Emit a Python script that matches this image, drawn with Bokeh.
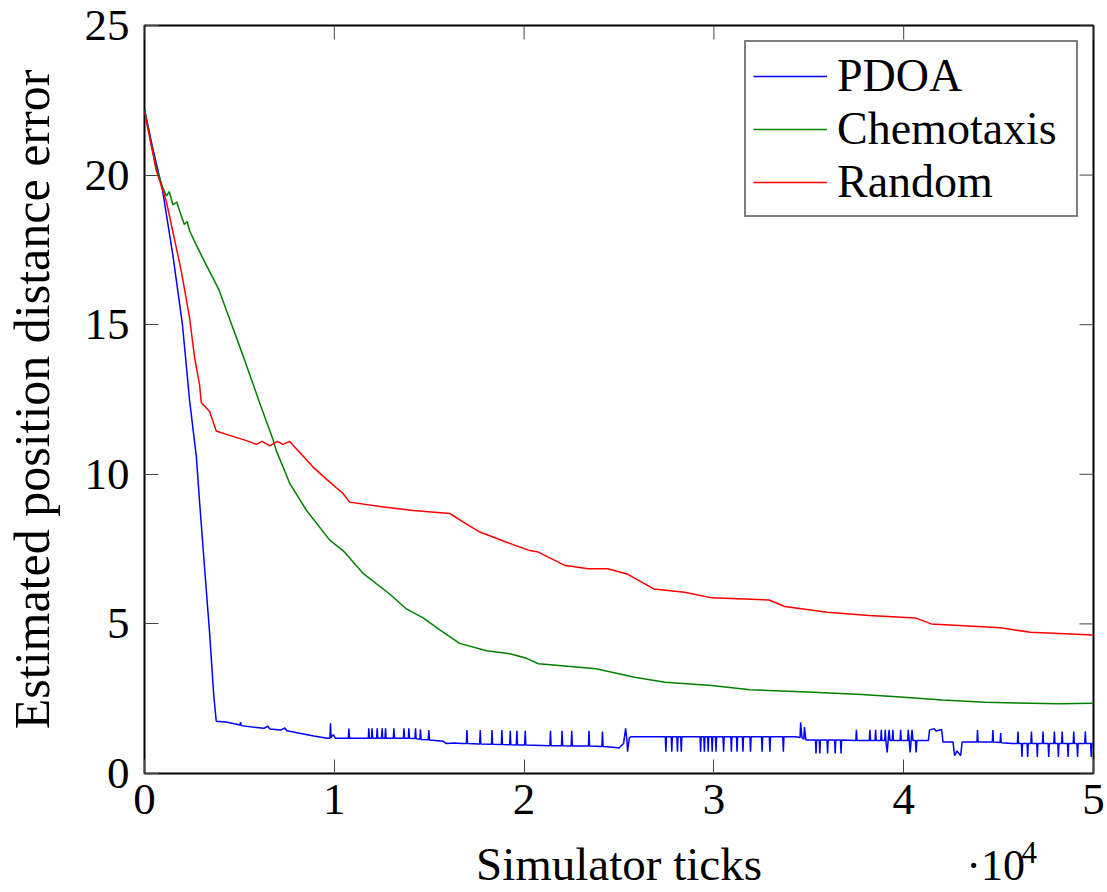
import math
from bokeh.plotting import figure
from bokeh.models import FixedTicker, Legend, LegendItem, Range1d
from bokeh.core.properties import value
from bokeh.embed import file_html
from bokeh.resources import INLINE

# ---------------- data ----------------
x_ticks = [0, 10000, 20000, 30000, 40000, 50000]
x_tick_labels = ["0", "1", "2", "3", "4", "5"]
y_ticks = [0, 5, 10, 15, 20, 25]

pdoa_points = [
    (0, 22.2), (400, 21.0), (950, 19.5), (1500, 17.3), (2000, 15.0), (2370, 12.5),
    (2730, 10.6), (2900, 9.1), (3150, 7.0), (3430, 4.7), (3650, 2.6), (3780, 1.75),
    (4300, 1.72), (5030, 1.62), (5060, 1.72), (5090, 1.6), (6290, 1.51), (6500, 1.58),
    (6600, 1.49), (7170, 1.45), (7400, 1.52), (7500, 1.43), (8920, 1.25), (9620, 1.18),
    (9770, 1.18), (9800, 1.68), (9830, 1.2), (9950, 1.3), (10050, 1.18),
    (10740, 1.18), (10770, 1.5), (10800, 1.18),
    (11790, 1.18), (11820, 1.51), (11850, 1.18), (11960, 1.18), (11990, 1.51), (12020, 1.18),
    (12230, 1.18), (12260, 1.51), (12290, 1.18), (12490, 1.18), (12520, 1.51), (12550, 1.18),
    (12670, 1.18), (12700, 1.51), (12730, 1.18), (13110, 1.18), (13140, 1.51), (13170, 1.18),
    (13640, 1.18), (13670, 1.51), (13700, 1.18), (13900, 1.18), (13930, 1.51), (13960, 1.18),
    (14250, 1.17), (14280, 1.51), (14310, 1.16), (14510, 1.15), (14540, 1.48), (14570, 1.14),
    (14950, 1.13), (14980, 1.45), (15010, 1.12),
    (15730, 1.08), (15900, 1.0), (16300, 1.02), (16700, 1.0),
    (16960, 1.0), (16990, 1.45), (17020, 1.0), (17660, 0.99), (17690, 1.45), (17720, 0.99),
    (18280, 0.98), (18310, 1.45), (18340, 0.98), (18800, 0.97), (18830, 1.45), (18860, 0.97),
    (19240, 0.96), (19270, 1.43), (19300, 0.96), (19590, 0.95), (19620, 1.43), (19650, 0.95),
    (20030, 0.95), (20060, 1.43), (20090, 0.95),
    (21360, 0.93), (21390, 1.43), (21420, 0.93), (21970, 0.93), (22000, 1.43), (22030, 0.93),
    (22480, 0.92), (22510, 1.43), (22540, 0.92), (23390, 0.92), (23420, 1.43), (23450, 0.92),
    (24100, 0.9), (24130, 1.4), (24160, 0.9),
    (24700, 0.88), (25000, 0.85), (25240, 1.0), (25350, 1.51), (25420, 1.1), (25450, 0.73),
    (25550, 1.2), (25650, 1.23),
    (27440, 1.23), (27470, 0.73), (27500, 1.23), (27750, 1.23), (27780, 0.73), (27810, 1.23),
    (28050, 1.23), (28080, 0.73), (28110, 1.23), (28250, 1.23), (28280, 0.73), (28310, 1.23),
    (29270, 1.23), (29300, 0.73), (29330, 1.23), (29470, 1.23), (29500, 0.73), (29530, 1.23),
    (29670, 1.23), (29700, 0.73), (29730, 1.23), (29880, 1.23), (29910, 0.73), (29940, 1.23),
    (30080, 1.23), (30110, 0.73), (30140, 1.23), (30480, 1.23), (30510, 0.73), (30540, 1.23),
    (30890, 1.23), (30920, 0.73), (30950, 1.23), (31190, 1.23), (31220, 0.73), (31250, 1.23),
    (31500, 1.23), (31530, 0.73), (31560, 1.23), (31900, 1.23), (31930, 0.73), (31960, 1.23),
    (32510, 1.23), (32540, 0.73), (32570, 1.23), (32920, 1.23), (32950, 0.73), (32980, 1.23),
    (33630, 1.23), (33660, 0.73), (33690, 1.23),
    (34300, 1.23), (34540, 1.2), (34570, 1.71), (34640, 1.2), (34740, 1.15), (34770, 1.55),
    (34850, 1.12),
    (35350, 1.12), (35380, 0.67), (35410, 1.12), (35550, 1.12), (35580, 0.67), (35610, 1.12),
    (35960, 1.12), (35990, 0.67), (36020, 1.12), (36360, 1.12), (36390, 0.67), (36420, 1.12),
    (36670, 1.12), (36700, 0.67), (36730, 1.12),
    (37480, 1.1), (37510, 1.46), (37540, 1.1), (38190, 1.1), (38220, 1.46), (38250, 1.1),
    (38490, 1.1), (38520, 1.46), (38550, 1.1), (38790, 1.1), (38820, 1.46), (38850, 1.1),
    (39000, 1.1), (39030, 1.46), (39060, 1.1), (39130, 0.7), (39180, 1.1), (39230, 1.46),
    (39280, 1.1), (39400, 1.1), (39430, 1.46), (39460, 1.1), (39810, 1.1), (39840, 1.46),
    (39870, 1.1), (40210, 1.1), (40240, 1.46), (40290, 1.1), (40340, 0.7), (40390, 1.1),
    (40440, 1.46), (40490, 1.1), (40620, 1.1), (40650, 0.7), (40700, 1.1),
    (41300, 1.1), (41360, 1.45), (41600, 1.5), (41700, 1.42), (42000, 1.47), (42070, 1.05),
    (42600, 1.05), (42680, 0.6), (42800, 0.75), (43000, 0.6), (43080, 1.05),
    (43860, 1.05), (43890, 1.45), (43920, 1.05), (44670, 1.05), (44700, 1.45), (44730, 1.05),
    (45080, 1.04), (45110, 1.35), (45140, 1.03),
    (45720, 1.0), (45990, 1.0), (46020, 1.4), (46050, 1.0), (46200, 1.0), (46230, 0.55),
    (46260, 1.0), (46500, 1.0), (46530, 0.55), (46560, 1.0), (46700, 1.0), (46730, 1.4),
    (46760, 1.0), (47010, 1.0), (47040, 0.55), (47070, 1.0), (47310, 1.0), (47340, 1.4),
    (47370, 1.0), (47610, 1.0), (47640, 0.55), (47670, 1.0), (47910, 1.0), (47940, 1.4),
    (47970, 1.0), (48120, 1.0), (48150, 0.55), (48180, 1.0), (48320, 1.0), (48350, 1.4),
    (48380, 1.0), (48630, 1.0), (48660, 0.55), (48690, 1.0), (48930, 1.0), (48960, 1.4),
    (48990, 1.0), (49130, 1.0), (49160, 0.55), (49190, 1.0), (49540, 1.0), (49570, 1.4),
    (49600, 1.0), (49850, 1.0), (49880, 0.55), (49910, 1.0), (50000, 1.0),
]

chemotaxis_points = [
    (0, 22.2), (300, 21.2), (600, 20.3), (950, 19.6), (1150, 19.3), (1300, 19.45),
    (1500, 19.0), (1700, 19.1), (1850, 18.8), (2100, 18.35), (2250, 18.45), (2370, 18.15),
    (2700, 17.7), (3250, 17.0), (3900, 16.2), (4480, 15.2), (5170, 14.0), (6060, 12.4),
    (6750, 11.2), (6940, 10.8), (7650, 9.7), (8530, 8.8), (9760, 7.8), (10460, 7.45),
    (11500, 6.7), (12920, 6.0), (13800, 5.5), (14680, 5.2), (15560, 4.8), (16600, 4.35),
    (18020, 4.1), (19250, 4.0), (20130, 3.85), (20750, 3.67), (22000, 3.6), (23790, 3.5),
    (25820, 3.22), (27430, 3.05), (29880, 2.94), (31910, 2.8), (34950, 2.72), (37790, 2.64),
    (40020, 2.55), (42040, 2.46), (44280, 2.38), (48140, 2.33), (50000, 2.35),
]

random_points = [
    (0, 22.1), (260, 21.3), (620, 20.15), (1140, 19.15), (1480, 18.15), (1935, 16.8),
    (2370, 15.25), (2640, 13.9), (2900, 13.0), (2990, 12.4), (3430, 12.1), (3780, 11.45),
    (4480, 11.3), (5500, 11.1), (5900, 11.0), (6200, 11.1), (6600, 10.95), (7000, 11.1),
    (7300, 11.0), (7650, 11.1), (8170, 10.74), (8880, 10.24), (9760, 9.74), (10460, 9.36),
    (10810, 9.07), (12400, 8.92), (14150, 8.79), (16090, 8.69), (16800, 8.4), (17670, 8.07),
    (19080, 7.73), (20300, 7.45), (20750, 7.4), (22170, 6.95), (23390, 6.84), (24400, 6.84),
    (25420, 6.67), (26830, 6.17), (28460, 6.06), (29880, 5.87), (32910, 5.8), (33730, 5.58),
    (35970, 5.39), (38190, 5.28), (40610, 5.2), (41450, 5.0), (45100, 4.87), (46670, 4.72),
    (50000, 4.63),
]

series_names = ["PDOA", "Chemotaxis", "Random"]
series_colors = ["#0000ff", "#008000", "#ff0000"]
x_multiplier_text = "\u00b710"
x_multiplier_exponent = "4"

FONT = "Liberation Serif"
X_MIN, X_MAX = 0, 50000
Y_MIN, Y_MAX = 0, 25

# ---------------- figure ----------------
p = figure(width=1107, height=892, output_backend="svg", toolbar_location=None,
           x_range=Range1d(X_MIN, X_MAX), y_range=Range1d(Y_MIN, Y_MAX))
p.min_border_left = 144
p.min_border_right = 14
p.min_border_top = 25
p.min_border_bottom = 118
p.grid.visible = False
p.outline_line_color = "black"
p.outline_line_width = 2
p.background_fill_color = "white"
p.border_fill_color = "white"

renderers = []
for pts, col in zip([pdoa_points, chemotaxis_points, random_points], series_colors):
    xs = [a for a, b in pts]
    ys = [b for a, b in pts]
    r = p.line(xs, ys, line_color=col, line_width=1.5)
    renderers.append(r)

TICK_COLOR = "#444444"

# mirrored inward ticks on the top and right edges (dash markers clipped by the frame)
p.scatter(x=x_ticks, y=[Y_MAX] * len(x_ticks), marker="dash", size=28, angle=math.pi / 2,
          line_color=TICK_COLOR, line_width=1)
p.scatter(x=[X_MAX] * len(y_ticks), y=y_ticks, marker="dash", size=28,
          line_color=TICK_COLOR, line_width=1)


def style_axis(ax):
    ax.axis_line_color = None
    ax.major_tick_in = 14
    ax.major_tick_out = 0
    ax.minor_tick_line_color = None
    ax.major_tick_line_color = TICK_COLOR
    ax.major_tick_line_width = 1
    ax.major_label_text_font = FONT
    ax.major_label_text_font_size = "45px"
    ax.major_label_text_color = "black"
    ax.axis_label_text_font = FONT
    ax.axis_label_text_font_style = "normal"
    ax.axis_label_text_color = "black"


xa = p.xaxis[0]
xa.ticker = FixedTicker(ticks=x_ticks)
xa.major_label_overrides = {t: l for t, l in zip(x_ticks, x_tick_labels)}
style_axis(xa)
xa.major_label_standoff = 11
xa.axis_label = "Simulator ticks"
xa.axis_label_text_font_size = "47px"
xa.axis_label_standoff = 21

ya = p.yaxis[0]
ya.ticker = FixedTicker(ticks=y_ticks)
style_axis(ya)
ya.major_label_standoff = 15
ya.axis_label = "Estimated position distance error"
ya.axis_label_text_font_size = "50px"
ya.axis_label_standoff = 22

legend = Legend(items=[LegendItem(label=n, renderers=[r]) for n, r in zip(series_names, renderers)],
                location="top_right")
legend.margin = 15
legend.padding = 7
legend.spacing = 0
legend.glyph_width = 74
legend.glyph_height = 50
legend.label_height = 50
legend.label_width = 232
legend.label_standoff = 10
legend.label_text_font = FONT
legend.label_text_font_size = "46px"
legend.label_text_color = "black"
legend.border_line_color = "black"
legend.border_line_width = 2
legend.background_fill_color = "white"
legend.background_fill_alpha = 1.0
p.add_layout(legend)

# axis scale multiplier "·10^4" below the x axis (drawn on the overlay level so it is not clipped)
p.text(x=[43300], y=[-3.09], text=[x_multiplier_text], text_font=value(FONT),
       text_font_size="44px", text_baseline="alphabetic", text_align="left",
       text_color="black", level="overlay")
p.text(x=[46200], y=[-2.63], text=[x_multiplier_exponent], text_font=value(FONT),
       text_font_size="31px", text_baseline="alphabetic", text_align="left",
       text_color="black", level="overlay")

open("out.html", "w").write(file_html(p, INLINE))
